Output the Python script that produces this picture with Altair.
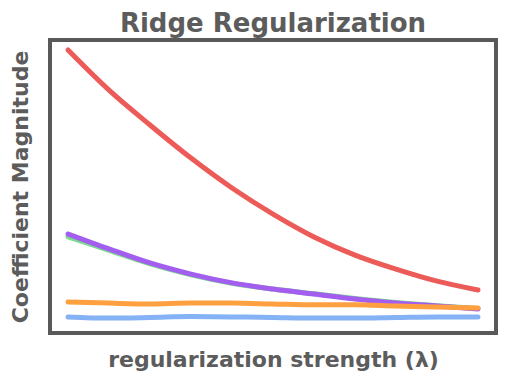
import altair as alt
import pandas as pd

lam = [0, 1, 2, 3, 4, 5, 6, 7, 8, 9, 10]
coef_red = [9.66, 8.29, 7.10, 5.97, 4.95, 4.06, 3.28, 2.66, 2.18, 1.77, 1.47]
coef_green = [3.28, 2.82, 2.36, 1.99, 1.70, 1.50, 1.34, 1.18, 1.04, 0.93, 0.84]
coef_purple = [3.38, 2.87, 2.39, 2.01, 1.71, 1.50, 1.33, 1.16, 1.02, 0.92, 0.82]
coef_orange = [1.06, 1.02, 0.99, 1.02, 1.02, 0.99, 0.96, 0.96, 0.92, 0.89, 0.85]
coef_blue = [0.55, 0.51, 0.53, 0.56, 0.55, 0.53, 0.51, 0.51, 0.53, 0.55, 0.55]

series = {
    "w1": (coef_red, "#EC5B57"),
    "w2": (coef_green, "#7CDB8C"),
    "w3": (coef_purple, "#A35EF0"),
    "w4": (coef_orange, "#FFA040"),
    "w5": (coef_blue, "#84B2F4"),
}

rows = []
for name, (vals, _) in series.items():
    for l, v in zip(lam, vals):
        rows.append({"series": name, "lam": l, "coef": v})
df = pd.DataFrame(rows)

names = list(series.keys())
colors = [series[n][1] for n in names]

FONT = "DejaVu Sans"
TXT = "#5c5c5c"

xs = alt.Scale(domain=[-0.44, 10.44], nice=False, zero=False)
ys = alt.Scale(domain=[0, 10], nice=False, zero=False)

layers = []
for n in names:
    layers.append(
        alt.Chart(df).transform_filter(alt.datum.series == n)
        .mark_line(strokeWidth=5, interpolate="monotone", strokeCap="round")
        .encode(
            x=alt.X("lam:Q", scale=xs,
                    axis=alt.Axis(title="regularization strength (λ)", labels=False, ticks=False,
                                  domain=False, grid=False, titleFontSize=22, titleFont=FONT,
                                  titleFontWeight="bold", titleColor=TXT, titlePadding=16)),
            y=alt.Y("coef:Q", scale=ys,
                    axis=alt.Axis(title="Coefficient Magnitude", labels=False, ticks=False,
                                  domain=False, grid=False, titleFontSize=22, titleFont=FONT,
                                  titleFontWeight="bold", titleColor=TXT, titlePadding=18)),
            color=alt.Color("series:N", scale=alt.Scale(domain=names, range=colors), legend=None),
        )
    )

chart = alt.layer(*layers).properties(
    width=446, height=293,
    title=alt.TitleParams("Ridge Regularization", fontSize=26, font=FONT,
                          fontWeight="bold", color=TXT, offset=3),
    autosize=alt.AutoSizeParams(type="none"),
    padding={"left": 42, "top": 32, "right": 2, "bottom": 39},
    background="white",
).configure_view(stroke="#595959", strokeWidth=4)

chart.save("out.html", embed_options={"renderer": "svg", "actions": False})
